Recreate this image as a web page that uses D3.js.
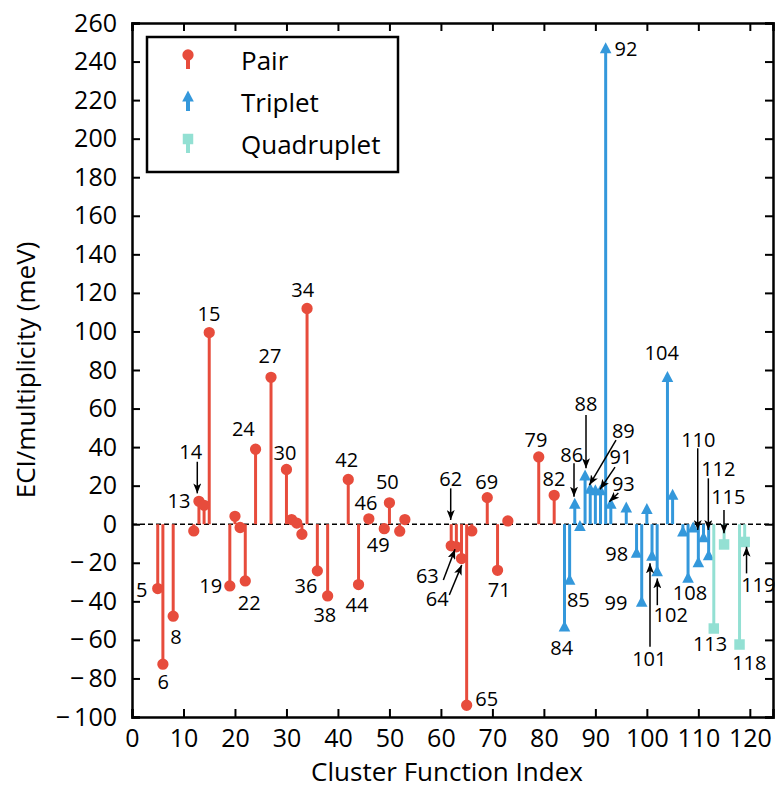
<!DOCTYPE html>
<html>
<head>
<meta charset="utf-8">
<script src="https://cdn.jsdelivr.net/npm/d3@7"></script>
<style>
  body { margin: 0; background: #fff; }
  svg { font-family: "Open Sans", sans-serif; }
</style>
</head>
<body>
<svg id="chart"></svg>
<script>
// ECI per multiplicity (meV)
var pairIdx = [5, 6, 8, 12, 13, 14, 15, 19, 20, 21, 22, 24, 27, 30, 31, 32, 33, 34, 36, 38,
               42, 44, 46, 49, 50, 52, 53, 62, 63, 64, 65, 66, 69, 71, 73, 79, 82];
var pairVal = [-33.4, -72.6, -47.7, -3.5, 11.9, 9.8, 99.4, -32, 4.1, -1.7, -29.4, 38.9, 76.2, 28.4, 2.4, 0.6, -5.2, 111.9, -24.2, -37.2,
               23.2, -31.3, 2.8, -2.3, 11.1, -3.6, 2.4, -11.2, -11.7, -17.8, -93.9, -3.5, 13.8, -23.9, 1.7, 34.9, 15.0];

var tripIdx = [84, 85, 86, 87, 88, 89, 90, 91, 92, 93, 96, 98, 99, 100, 101, 102, 104, 105, 107, 108, 109, 110, 111, 112];
var tripVal = [-53.3, -29, 10.3, -1.2, 25, 18.2, 17.4, 17.4, 246.7, 10.3, 8.4, -15, -40.5, 7.6, -16.6, -24.7, 76.1, 15, -4, -28, -2, -20, -7, -16.3];

var quadIdx = [113, 115, 118, 119];
var quadVal = [-54.1, -10.5, -62.4, -9.2];

var xTicks = d3.range(0, 121, 10);
var yTicks = d3.range(-100, 261, 20);

var seriesNames = ['Pair', 'Triplet', 'Quadruplet'];

// text labels, placed in data coordinates; arrow = [x1, y1, x2, y2]
var notes = [
    {t: '5', x: 1.88, y: -33.8}, {t: '6', x: 6.08, y: -81.7}, {t: '8', x: 8.55, y: -58.4},
    {t: '13', x: 9.13, y: 12.2},
    {t: '14', x: 11.4, y: 37.6, arrow: [12.68, 32.4, 12.68, 16.0]},
    {t: '15', x: 14.96, y: 109}, {t: '19', x: 15.29, y: -32.1}, {t: '22', x: 22.78, y: -40.7},
    {t: '24', x: 21.62, y: 49.6}, {t: '27', x: 26.8, y: 87.2}, {t: '30', x: 29.72, y: 36.8},
    {t: '34', x: 33.16, y: 121.5}, {t: '36', x: 33.8, y: -32.1}, {t: '38', x: 37.45, y: -47.1},
    {t: '42', x: 41.7, y: 33.2}, {t: '44', x: 43.7, y: -41.9}, {t: '46', x: 45.45, y: 11.2},
    {t: '49', x: 47.84, y: -10.8}, {t: '50', x: 49.59, y: 22.0},
    {t: '62', x: 61.9, y: 23.8, arrow: [61.9, 18.6, 61.9, 2.2]},
    {t: '63', x: 57.36, y: -26.7, arrow: [60.47, -28.9, 62.74, -13.0]},
    {t: '64', x: 59.3, y: -38.9, arrow: [61.63, -36.7, 64.04, -21.2]},
    {t: '65', x: 68.89, y: -90.3}, {t: '69', x: 68.89, y: 21.9}, {t: '71', x: 71.34, y: -34.1},
    {t: '79', x: 78.47, y: 43.7}, {t: '82', x: 81.97, y: 23.5}, {t: '84', x: 83.46, y: -63.9},
    {t: '85', x: 86.69, y: -39.3},
    {t: '86', x: 85.4, y: 35.9, arrow: [85.85, 31.6, 85.85, 14.3]},
    {t: '88', x: 88.18, y: 62.3, arrow: [88.18, 56.6, 88.18, 29.0]},
    {t: '89', x: 95.43, y: 48.4, arrow: [94.01, 43.6, 88.83, 20.3]},
    {t: '91', x: 94.98, y: 35.2, arrow: [93.82, 29.6, 90.9, 18.1]},
    {t: '93', x: 95.43, y: 21.2, arrow: [94.46, 16.2, 92.71, 11.7]},
    {t: '92', x: 95.95, y: 246.8}, {t: '98', x: 94.15, y: -15.6}, {t: '99', x: 94.01, y: -40.7},
    {t: '101', x: 100.48, y: -69.6, arrow: [100.61, -63.5, 100.61, -20.3]},
    {t: '102', x: 104.63, y: -47.1, arrow: [102.03, -42.0, 102.03, -28.1]},
    {t: '104', x: 102.88, y: 88.9}, {t: '108', x: 108.38, y: -35.8},
    {t: '110', x: 109.99, y: 44.0, arrow: [109.88, 39.4, 109.88, -3.0]},
    {t: '112', x: 113.88, y: 29.0, arrow: [111.94, 23.8, 111.94, -3.0]},
    {t: '113', x: 112.27, y: -62.1},
    {t: '115', x: 115.82, y: 14.2, arrow: [114.98, 7.4, 114.98, -4.7]},
    {t: '118', x: 119.9, y: -71.8},
    {t: '119', x: 121.65, y: -31.5, arrow: [119.36, -25.5, 119.36, -11.7]}
];

var width = 775, height = 791;
var margin = {top: 23, right: 2, bottom: 74, left: 132};

var svg = d3.select('#chart')
    .attr('width', width)
    .attr('height', height);

var x = d3.scaleLinear().domain([0, 124.5]).range([margin.left, width - margin.right]);
var y = d3.scaleLinear().domain([-100, 260]).range([height - margin.bottom, margin.top]);

var red = '#e74c3c', blue = '#3498db', teal = '#93e0d3';

var fmt = function(d) { return d < 0 ? '\u2212\u2009' + Math.abs(d) : d; };

// axes, ticks pointing inwards on all four sides
svg.append('g')
    .attr('class', 'axis')
    .attr('transform', 'translate(0,' + y(-100) + ')')
    .call(d3.axisBottom(x).tickValues(xTicks).tickSize(-8).tickPadding(12).tickFormat(fmt));
svg.append('g')
    .attr('class', 'axis')
    .attr('transform', 'translate(' + x(0) + ',0)')
    .call(d3.axisLeft(y).tickValues(yTicks).tickSize(-8).tickPadding(15).tickFormat(fmt));
svg.append('g')
    .attr('class', 'axis')
    .attr('transform', 'translate(0,' + y(260) + ')')
    .call(d3.axisTop(x).tickValues(xTicks).tickSize(-8).tickFormat(''));
svg.append('g')
    .attr('class', 'axis')
    .attr('transform', 'translate(' + x(124.5) + ',0)')
    .call(d3.axisRight(y).tickValues(yTicks).tickSize(-8).tickFormat(''));

svg.selectAll('.axis path').attr('stroke', '#000').attr('stroke-width', 2.5);
svg.selectAll('.axis line').attr('stroke', '#000').attr('stroke-width', 2);
svg.selectAll('.axis text')
    .attr('font-family', '"Open Sans", sans-serif')
    .attr('font-size', 25)
    .attr('fill', '#000');

// zero line
svg.append('line')
    .attr('x1', x(0)).attr('x2', x(124.5))
    .attr('y1', y(0)).attr('y2', y(0))
    .attr('stroke', '#000')
    .attr('stroke-width', 1.5)
    .attr('stroke-dasharray', '5,3');

var triPath = 'M0,-6.5L5.8,4.5L-5.8,4.5Z';

var drawSeries = function(idx, vals, color, shape) {
    var data = idx.map(function(d, i) { return {i: d, v: vals[i]}; });
    var g = svg.append('g');
    g.selectAll('line')
        .data(data)
        .enter()
        .append('line')
        .attr('x1', function(d) { return x(d.i); })
        .attr('x2', function(d) { return x(d.i); })
        .attr('y1', y(0))
        .attr('y2', function(d) { return y(d.v); })
        .attr('stroke', color)
        .attr('stroke-width', 3);
    g.selectAll('path')
        .data(data)
        .enter()
        .append('path')
        .attr('d', shape)
        .attr('transform', function(d) { return 'translate(' + x(d.i) + ',' + y(d.v) + ')'; })
        .attr('fill', color);
};

drawSeries(pairIdx, pairVal, red, d3.symbol(d3.symbolCircle, 100)());
drawSeries(tripIdx, tripVal, blue, triPath);
drawSeries(quadIdx, quadVal, teal, d3.symbol(d3.symbolSquare, 110)());

// arrows and labels
svg.append('defs').append('marker')
    .attr('id', 'head')
    .attr('markerUnits', 'userSpaceOnUse')
    .attr('viewBox', '0 0 10 8')
    .attr('refX', 10).attr('refY', 4)
    .attr('markerWidth', 10).attr('markerHeight', 8)
    .attr('orient', 'auto')
    .append('path')
    .attr('d', 'M0,0L10,4L0,8L2.5,4Z')
    .attr('fill', '#000');

svg.append('g').selectAll('line')
    .data(notes.filter(function(d) { return d.arrow; }))
    .enter()
    .append('line')
    .attr('x1', function(d) { return x(d.arrow[0]); })
    .attr('y1', function(d) { return y(d.arrow[1]); })
    .attr('x2', function(d) { return x(d.arrow[2]); })
    .attr('y2', function(d) { return y(d.arrow[3]); })
    .attr('stroke', '#000')
    .attr('stroke-width', 1.5)
    .attr('marker-end', 'url(#head)');

svg.append('g').selectAll('text')
    .data(notes)
    .enter()
    .append('text')
    .attr('x', function(d) { return x(d.x); })
    .attr('y', function(d) { return y(d.y); })
    .attr('dy', '0.36em')
    .attr('text-anchor', 'middle')
    .attr('font-size', 20)
    .text(function(d) { return d.t; });

// legend
var lg = svg.append('g');
lg.append('rect')
    .attr('x', 147).attr('y', 37)
    .attr('width', 251).attr('height', 135)
    .attr('fill', '#fff')
    .attr('stroke', '#000')
    .attr('stroke-width', 2.5);

var legendColors = [red, blue, teal];
var legendShapes = [d3.symbol(d3.symbolCircle, 100)(), triPath, d3.symbol(d3.symbolSquare, 110)()];
var legendTop = [55, 97, 139];
seriesNames.forEach(function(name, k) {
    var cy = legendTop[k];
    lg.append('line')
        .attr('x1', 188).attr('x2', 188)
        .attr('y1', cy).attr('y2', cy + 14)
        .attr('stroke', legendColors[k])
        .attr('stroke-width', 4);
    lg.append('path')
        .attr('d', legendShapes[k])
        .attr('transform', 'translate(188,' + cy + ')')
        .attr('fill', legendColors[k]);
    lg.append('text')
        .attr('x', 241)
        .attr('y', cy + 6)
        .attr('dy', '0.36em')
        .attr('font-size', 26)
        .text(name);
});

// axis titles
svg.append('text')
    .attr('x', 447)
    .attr('y', 772)
    .attr('dy', '0.36em')
    .attr('text-anchor', 'middle')
    .attr('font-size', 26)
    .text('Cluster Function Index');

svg.append('text')
    .attr('transform', 'translate(26,370) rotate(-90)')
    .attr('dy', '0.36em')
    .attr('text-anchor', 'middle')
    .attr('font-size', 26)
    .text('ECI/multiplicity (meV)');
</script>
</body>
</html>
